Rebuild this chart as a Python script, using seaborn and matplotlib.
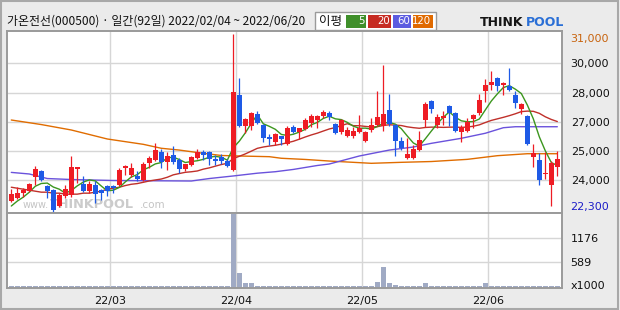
import numpy as np
import pandas as pd
import matplotlib
matplotlib.use("Agg")
import matplotlib.pyplot as plt
import seaborn as sns
from matplotlib.patches import Rectangle

# ---------------- data ----------------
title = "가온전선(000500) · 일간(92일) 2022/02/04 ~ 2022/06/20"
month_labels = ["22/03", "22/04", "22/05", "22/06"]
month_first_day = [17, 38, 59, 80]

open_ = [22550, 22700, 22950, 23050, 23750, 24050, 23300, 23100, 22300, 22800,
         22850, 24150, 23400, 23050, 23350, 23100, 23300, 23300, 23350, 24200,
         23850, 23800, 23600, 24500, 24650, 25050, 24550, 24900, 24650, 24150,
         24350, 24750, 25050, 25050, 24700, 24800, 24600, 24100, 27900, 26350,
         26350, 26950, 26400, 25800, 25550, 25850, 25450, 26300, 26050, 26200,
         26500, 26650, 26850, 27000, 26450, 26050, 25850, 25850, 26050, 25600,
         26150, 26400, 26350, 27150, 26400, 25600, 24750, 24750, 25150, 26650,
         27600, 26400, 26750, 27350, 27000, 26050, 26100, 26700, 27000, 28100,
         28400, 28800, 28400, 28350, 27900, 27200, 26850, 24800, 24650, 23900,
         23350, 24250]
high = [23150, 23250, 23200, 23450, 24300, 24100, 23350, 23150, 22950, 23350,
        24850, 24250, 23800, 23550, 23550, 23150, 23350, 23350, 24200, 24350,
        24500, 24050, 24550, 24850, 25500, 25200, 25050, 25350, 24750, 24450,
        24850, 25200, 25150, 25100, 24900, 24950, 24700, 31000, 28750, 26750,
        27050, 27100, 26450, 25950, 26000, 25850, 26350, 26400, 26250, 26750,
        26950, 26900, 27150, 27100, 26500, 26700, 26300, 26300, 26900, 26100,
        26750, 28100, 29450, 27950, 26450, 25800, 25750, 25400, 26100, 27550,
        27650, 26950, 27100, 27400, 27050, 26400, 26750, 26950, 27950, 28700,
        29150, 28850, 28550, 29300, 28100, 27500, 26900, 25450, 25000, 25050,
        24600, 25100]
low = [22500, 22650, 22750, 23000, 23350, 23550, 22700, 22000, 22250, 22700,
       22750, 23450, 23000, 22950, 22450, 22600, 22800, 22950, 23300, 23850,
       23750, 23550, 23550, 24200, 24600, 24200, 24100, 24400, 23950, 24050,
       24300, 24700, 24650, 24350, 24350, 24450, 24250, 24050, 26300, 26000,
       26150, 26450, 25550, 25400, 25400, 25400, 25400, 26000, 25700, 26150,
       26300, 26250, 26750, 26650, 25950, 25950, 25800, 25750, 26000, 25550,
       26050, 26350, 26100, 26350, 24850, 25150, 24700, 24700, 25100, 26300,
       27000, 26250, 26400, 26350, 26050, 25550, 26050, 26250, 26900, 27550,
       28150, 28100, 27900, 28100, 27250, 26950, 25400, 24250, 23350, 23650,
       22300, 23800]
close = [22900, 22950, 23100, 23400, 24150, 23600, 23050, 22100, 22850, 23150,
         24250, 24250, 23050, 23400, 22900, 22950, 23050, 23200, 24100, 24300,
         24200, 23650, 24400, 24750, 25150, 24550, 24850, 24550, 24150, 24400,
         24800, 25050, 24900, 24700, 24600, 24600, 24300, 28050, 26350, 26700,
         27000, 26500, 25750, 25700, 25950, 25700, 26250, 26050, 26250, 26650,
         26850, 26850, 27050, 26800, 26000, 26650, 26150, 26100, 26250, 26050,
         26400, 26800, 26950, 26450, 25600, 25250, 24950, 25200, 25650, 27450,
         27200, 26800, 26850, 27000, 26100, 26300, 26550, 26900, 27650, 28400,
         28550, 28350, 28500, 28150, 27500, 27450, 25450, 25000, 23600, 23950,
         24500, 24700]
volume = [24, 24, 24, 24, 24, 24, 24, 24, 24, 24,
          47, 24, 24, 24, 24, 24, 24, 24, 24, 24,
          24, 24, 24, 24, 47, 24, 24, 24, 24, 24,
          24, 24, 24, 24, 24, 24, 24, 1725, 332, 95,
          95, 40, 40, 40, 24, 24, 40, 24, 24, 24,
          24, 24, 40, 40, 24, 24, 24, 24, 24, 24,
          24, 135, 490, 95, 64, 24, 24, 24, 24, 95,
          40, 24, 24, 40, 24, 24, 24, 24, 40, 95,
          40, 40, 24, 40, 24, 24, 40, 40, 24, 24,
          24, 24]

# moving averages: first days need history before the window
ma5_head = [22300, 22550, 22750, 23000]
ma20_head = [23250, 23200, 23150, 23100, 23050, 23000, 23000, 22950, 22950, 22900,
             22900, 22900, 22950, 22950, 23000, 23050, 23150, 23200, 23250]
ma60_days = [0, 3, 6, 10, 17, 30, 33, 37, 41, 44, 47, 51, 53, 58, 63, 67, 70, 75, 79, 82, 84, 91]
ma60_vals = [24000, 23920, 23690, 23640, 23590, 23565, 23690, 23820, 23960, 24035, 24150,
             24350, 24425, 24830, 25130, 25285, 25470, 25725, 25980, 26260, 26310, 26310]
ma120_days = [0, 5, 10, 16, 22, 25, 28, 31, 35, 38, 43, 45, 49, 53, 57, 60, 65, 70, 76, 81, 86, 91]
ma120_vals = [26650, 26420, 26145, 25690, 25420, 25220, 25130, 25005, 24855, 24830, 24795,
              24715, 24655, 24575, 24510, 24460, 24510, 24550, 24660, 24845, 24945, 24945]

price_ticks = [29520, 28040, 26560, 25080, 23600]
price_max_label, price_min_label = 31000, 22300
vol_ticks = [589, 1176]
vol_unit = "x1000"

# ---------------- style ----------------
RED, BLUE = "#ee1c24", "#1e5ae6"
C5, C20, C60, C120 = "#3c961e", "#c0302a", "#6a52dc", "#e06c00"
VOLC = "#a0aac4"
GRID = "#d6d6d6"
SPINE = "#9a9a9a"

sns.set_theme(style="white")
plt.rcParams["font.family"] = ["DejaVu Sans"]
CJK = ["Noto Sans CJK KR", "DejaVu Sans"]

W, H = 620, 310
fig = plt.figure(figsize=(6.2, 3.1), dpi=100, facecolor="#ebebeb")
fx = lambda px: px / W
fy = lambda py: 1 - py / H

L, R, T, M, B = 7.3, 562.3, 31.0, 212.5, 287.5
ax = fig.add_axes([fx(L), fy(M), fx(R) - fx(L), fy(T) - fy(M)])
axv = fig.add_axes([fx(L), fy(B), fx(R) - fx(L), fy(M) - fy(B)])

df = pd.DataFrame(dict(day=np.arange(len(close)), open=open_, high=high,
                       low=low, close=close, volume=volume))
up = df["close"] >= df["open"]
cols = np.where(up, RED, BLUE)

# candles
ax.vlines(df["day"], df["low"], df["high"], colors=cols, lw=0.9, zorder=4)
body_bot = np.minimum(df["open"], df["close"])
body_h = np.maximum((df["close"] - df["open"]).abs(), 45)
ax.bar(df["day"], body_h, bottom=body_bot, width=0.76, color=cols, lw=0, zorder=5)

# moving averages
cs = df["close"].astype(float)
ma5 = cs.rolling(5).mean()
ma5.iloc[:4] = ma5_head
ma20 = cs.rolling(20).mean()
ma20.iloc[:19] = ma20_head
sns.lineplot(x=ma120_days, y=ma120_vals, ax=ax, color=C120, lw=1.0, zorder=2)
sns.lineplot(x=ma60_days, y=ma60_vals, ax=ax, color=C60, lw=1.0, zorder=2)
sns.lineplot(x=df["day"], y=ma20, ax=ax, color=C20, lw=1.0, zorder=3)
sns.lineplot(x=df["day"], y=ma5, ax=ax, color=C5, lw=1.0, zorder=3)

# volume
sns.barplot(x=df["day"], y=df["volume"], ax=axv, native_scale=True, color=VOLC,
            saturation=1, width=0.78, errorbar=None, linewidth=0)

# axes setup
xlim = (-0.667, 91.83)
month_pos = [d - 0.5 for d in month_first_day]
for a in (ax, axv):
    a.set_facecolor("white")
    a.set_xlim(*xlim)
    a.set_xlabel("")
    a.set_ylabel("")
    a.set_xticks(month_pos)
    a.grid(True, color=GRID, lw=1.0, zorder=0)
    a.set_axisbelow(True)
    for s in a.spines.values():
        s.set_color(SPINE)
        s.set_linewidth(1.4)
    a.yaxis.tick_right()
    a.tick_params(axis="both", length=0, labelsize=8, colors="#111111")

ax.set_ylim(21972, 31152)
ax.set_yticks(price_ticks)
ax.set_yticklabels([f"{int(round(v, -3)):,}" for v in price_ticks])
ax.tick_params(axis="y", pad=6)
ax.tick_params(axis="x", labelbottom=False)

axv.set_ylim(0, 1765)
axv.set_yticks(vol_ticks)
axv.set_yticklabels([str(v) for v in vol_ticks])
axv.tick_params(axis="y", pad=6)
axv.set_xticklabels(month_labels)
axv.tick_params(axis="x", pad=6)

ax.annotate(f"{price_max_label:,}", xy=(1, price_max_label), xycoords=("axes fraction", "data"),
            xytext=(8, -4.5), textcoords="offset pixels", va="center", ha="left",
            color="#c8640f", fontsize=8, annotation_clip=False)
ax.annotate(f"{price_min_label:,}", xy=(1, price_min_label), xycoords=("axes fraction", "data"),
            xytext=(8, -1), textcoords="offset pixels", va="center", ha="left",
            color="#1e1ec8", fontsize=8, annotation_clip=False)
axv.annotate(vol_unit, xy=(1, 0), xycoords=("axes fraction", "data"),
             xytext=(8, 1.5), textcoords="offset pixels", va="center", ha="left",
             color="#111111", fontsize=8, annotation_clip=False)

# watermark (behind candles)
ax.text(fx(23), fy(205), "www.", transform=fig.transFigure, fontsize=7, color="#c4c4c4",
        va="center", zorder=1)
ax.text(fx(50), fy(204), "THINKPOOL", transform=fig.transFigure, fontsize=9.3, color="#cbcbcb",
        fontweight="bold", va="center", zorder=1)
ax.text(fx(140), fy(205), ".com", transform=fig.transFigure, fontsize=7.5, color="#c4c4c4",
        va="center", zorder=1)

# header
fig.text(fx(7), fy(21), title, family=CJK, fontsize=8.6, color="#111111",
         va="center", ha="left")
fig.patches.append(Rectangle((fx(315), fy(30)), fx(435.6) - fx(315), fy(12.5) - fy(30),
                             transform=fig.transFigure, figure=fig, facecolor="white",
                             edgecolor="#9a9a9a", lw=1))
fig.text(fx(331), fy(21.5), "이평", family=CJK, fontsize=9, color="#111111",
         va="center", ha="center")
legend_boxes = [(346, 365.6, "#3f8f2a", "5"), (367.6, 391.3, "#c62b22", "20"),
                (392.5, 411, "#5c5ce0", "60"), (412.5, 432.5, "#e06a00", "120")]
for x0, x1, c, lab in legend_boxes:
    fig.patches.append(Rectangle((fx(x0), fy(28)), fx(x1) - fx(x0), fy(14.7) - fy(28),
                                 transform=fig.transFigure, figure=fig, facecolor=c, lw=0))
    fig.text(fx(x1 - 1), fy(21.5), lab, fontsize=7.3, color="white", va="center", ha="right")

fig.text(fx(480), fy(22), "THINK", fontsize=9, fontweight="black", color="#151515",
         va="center", ha="left")
fig.text(fx(525.5), fy(22), "POOL", fontsize=9, fontweight="black", color="#2a6fd6",
         va="center", ha="left")

# outer frame
fig.patches.append(Rectangle((fx(1), fy(309)), fx(618) - fx(1), fy(1) - fy(309),
                             transform=fig.transFigure, figure=fig, fill=False,
                             edgecolor="#a8a8a8", lw=1.5))

fig.savefig("out.png", dpi=100, facecolor=fig.get_facecolor())
